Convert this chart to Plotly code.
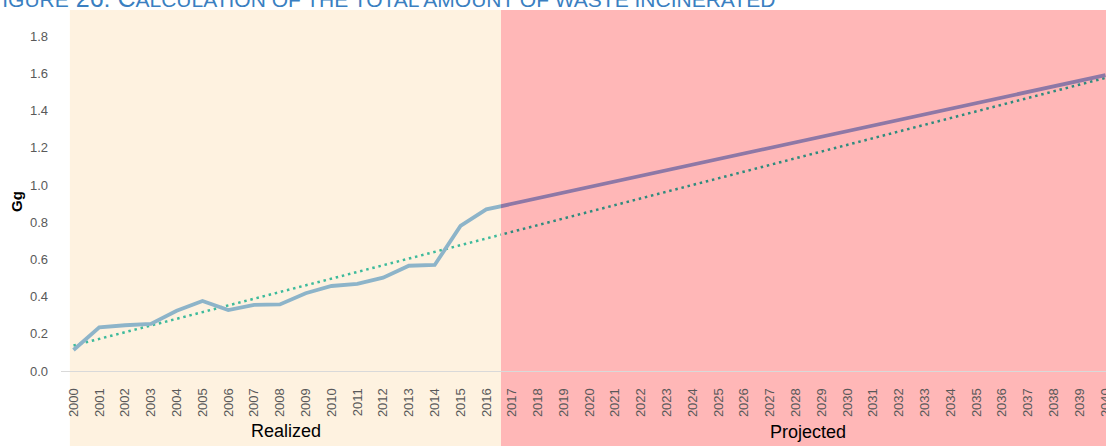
import numpy as np
import plotly.graph_objects as go

# ---------------- data ----------------
years_realized = [2000, 2001, 2002, 2003, 2004, 2005, 2006, 2007, 2008, 2009,
                  2010, 2011, 2012, 2013, 2014, 2015, 2016]
realized = [0.113, 0.235, 0.246, 0.253, 0.324, 0.376, 0.328, 0.355, 0.358, 0.418,
            0.457, 0.468, 0.502, 0.566, 0.570, 0.780, 0.869]

years_projected = [2016, 2017, 2018, 2019, 2020, 2021, 2022, 2023, 2024, 2025,
                   2026, 2027, 2028, 2029, 2030, 2031, 2032, 2033, 2034, 2035,
                   2036, 2037, 2038, 2039, 2040]
projected = [0.869, 0.899, 0.929, 0.959, 0.989, 1.019, 1.049, 1.079, 1.109, 1.139,
             1.169, 1.199, 1.229, 1.259, 1.289, 1.319, 1.349, 1.379, 1.410, 1.440,
             1.470, 1.500, 1.530, 1.560, 1.591]

y_ticks = [0.0, 0.2, 0.4, 0.6, 0.8, 1.0, 1.2, 1.4, 1.6, 1.8]
y_ticktext = ["0.0", "0.2", "0.4", "0.6", "0.8", "1.0", "1.2", "1.4", "1.6", "1.8"]

label_realized = "Realized"
label_projected = "Projected"
y_title = "Gg"

# ---------------- styling / layout constants ----------------
W, H = 1106, 446
ML, MR, MT, MB = 61, 0, 10, 75
PW, PH = W - ML - MR, H - MT - MB

X_START, X_SPLIT, X_END = 1999.516, 2016.57, 2040.02
Y_MAX = 1.941
SPLIT = (X_SPLIT - X_START) / (X_END - X_START)

BEIGE = "#FEF2E0"
PINK = "#FFB7B7"
BLUE = "#8DB4C9"
PURPLE = "#8E78A6"
TREND_L = "#3DBA9B"
TREND_R = "#2E8B7D"
TICK_GRAY = "#595959"
FONT = "Arial, Liberation Sans, sans-serif"


def px_x(px):
    return (px - ML) / PW


def px_y(py):
    return (H - MB - py) / PH


def year_to_paper(yr):
    return (yr - X_START) / (X_END - X_START)


# linear trendline (least squares on realized data, forecast forward)
slope, intercept = np.polyfit(years_realized, realized, 1)
trend_years_l = years_realized + [2017]
trend_years_r = years_projected
trend_l = [slope * yr + intercept for yr in trend_years_l]
trend_r = [slope * yr + intercept for yr in trend_years_r]

fig = go.Figure()

# left (realized) part
fig.add_trace(go.Scatter(
    x=trend_years_l, y=trend_l, mode="lines", xaxis="x", yaxis="y",
    line=dict(color=TREND_L, width=2.5, dash="2.5px,3.8px"), hoverinfo="skip"))
fig.add_trace(go.Scatter(
    x=years_realized + [years_projected[1]], y=realized + [projected[1]],
    mode="lines", xaxis="x", yaxis="y",
    line=dict(color=BLUE, width=3.8)))

# right (projected) part
fig.add_trace(go.Scatter(
    x=trend_years_r, y=trend_r, mode="lines", xaxis="x2", yaxis="y",
    line=dict(color=TREND_R, width=2.5, dash="2.5px,3.8px"), hoverinfo="skip"))
fig.add_trace(go.Scatter(
    x=years_projected, y=projected, mode="lines", xaxis="x2", yaxis="y",
    line=dict(color=PURPLE, width=3.8)))

tick_font = dict(family=FONT, size=13, color=TICK_GRAY)

xaxis_common = dict(
    tickmode="array", tickangle=-90, tickfont=tick_font, automargin=False,
    showgrid=False, zeroline=False, showline=True, linecolor="#D9D9D9",
    linewidth=1, ticks="", ticklabelstandoff=11, ticklabeloverflow="allow",
    anchor="y", fixedrange=True,
)

fig.update_layout(
    width=W, height=H,
    margin=dict(l=ML, r=MR, t=MT, b=MB, pad=0, autoexpand=False),
    paper_bgcolor="white", plot_bgcolor="rgba(0,0,0,0)",
    showlegend=False,
    xaxis=dict(domain=[0, SPLIT], range=[X_START, X_SPLIT],
               tickvals=years_realized, ticktext=[str(y) for y in years_realized],
               **xaxis_common),
    xaxis2=dict(domain=[SPLIT, 1], range=[X_SPLIT, X_END],
                tickvals=years_projected[1:], ticktext=[str(y) for y in years_projected[1:]],
                **xaxis_common),
    yaxis=dict(range=[0, Y_MAX], tickvals=y_ticks, ticktext=y_ticktext,
               tickfont=tick_font, showgrid=False, zeroline=False, showline=False,
               automargin=False, ticks="", ticklabelstandoff=12, fixedrange=True),
    shapes=[
        dict(type="rect", xref="paper", yref="paper", layer="below",
             x0=year_to_paper(1999.86), x1=SPLIT, y0=px_y(H), y1=1,
             fillcolor=BEIGE, line=dict(width=0)),
        dict(type="rect", xref="paper", yref="paper", layer="below",
             x0=SPLIT, x1=1.02, y0=px_y(H), y1=1,
             fillcolor=PINK, line=dict(width=0)),
    ],
    annotations=[
        dict(text=label_realized, xref="paper", yref="paper",
             x=px_x(286), y=px_y(431), xanchor="center", yanchor="middle",
             showarrow=False, font=dict(family=FONT, size=18, color="#000000")),
        dict(text=label_projected, xref="paper", yref="paper",
             x=px_x(808), y=px_y(432), xanchor="center", yanchor="middle",
             showarrow=False, font=dict(family=FONT, size=18, color="#000000")),
        dict(text="<b>" + y_title + "</b>", xref="paper", yref="paper",
             x=px_x(16), y=px_y(202), xanchor="center", yanchor="middle",
             textangle=-90, showarrow=False,
             font=dict(family=FONT, size=15, color="#000000")),
        dict(text="F<span style='font-size:21px'>IGURE</span> 26: C"
                  "<span style='font-size:21px'>ALCULATION OF THE TOTAL AMOUNT OF WASTE INCINERATED</span>",
             xref="paper", yref="paper", x=px_x(-15), y=px_y(14),
             xanchor="left", yanchor="bottom", showarrow=False,
             font=dict(family=FONT, size=25, color="#3A7FC1")),
    ],
)

fig.write_html(
    "out.html",
    config={"displayModeBar": False},
    post_script="document.body.style.margin='0';document.body.style.overflow='hidden';",
)
